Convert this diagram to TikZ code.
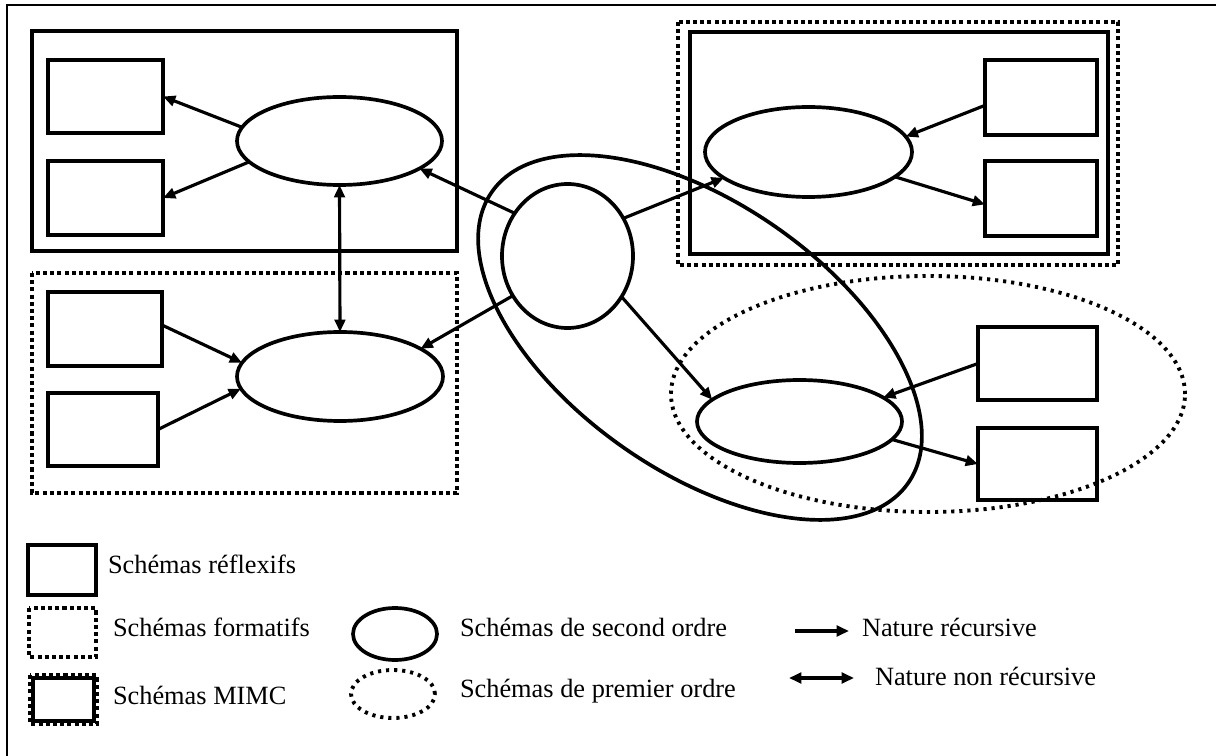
\documentclass[tikz,border=0pt]{standalone}
\usepackage{fontspec}
\setmainfont{Liberation Serif}
\usetikzlibrary{shapes.geometric,arrows.meta}
\begin{document}
\begin{tikzpicture}[x=0.02cm,y=-0.02cm,
  every node/.style={inner sep=0pt,outer sep=0pt},
  box/.style 2 args={draw,rectangle,line width=2.3pt,
    minimum width=#1*0.02cm,minimum height=#2*0.02cm},
  oval/.style 2 args={draw,ellipse,line width=2.1pt,
    minimum width=#1*0.02cm,minimum height=#2*0.02cm},
  solidgrp/.style={draw,line width=2.1pt},
  dotgrp/.style={draw,line width=2.1pt,dash pattern=on 2.3pt off 1.8pt},
  dotoval/.style={line width=2.2pt,dash pattern=on 1.8pt off 2.8pt},
  tip/.tip={Triangle[length=7pt,width=6pt]},
  arr/.style={line width=1.8pt,-tip},
  darr/.style={line width=1.8pt,tip-tip},
  lbl/.style={anchor=base west,font=\fontsize{15}{18}\selectfont}
]
\useasboundingbox (0,0) rectangle (1216,756);
\fill[white] (0,0) rectangle (1216,756);

% page frame (open at right and bottom)
\draw[line width=1.5pt] (1216,5) -- (7,5) -- (7,756);

% ---- group containers ----
\draw[solidgrp] (32,31) rectangle (457,251);          % reflexive group
\draw[dotgrp] (32,273) rectangle (457,493);           % formative group
\draw[dotgrp] (678,22) rectangle (1118,265);          % MIMC group: dotted outline
\draw[solidgrp] (690,32) rectangle (1108,254);        % MIMC group: solid outline
\node[draw,ellipse,dotoval,minimum width=514*0.02cm,minimum height=236*0.02cm] (first) at (928,394) {};

% ---- first-order boxes ----
\node[box={115}{73}] (tl1) at (105.5,96.5) {};
\node[box={115}{74}] (tl2) at (105.5,198) {};
\node[box={114}{74}] (ml1) at (105,329) {};
\node[box={110}{73}] (ml2) at (103,429.5) {};
\node[box={112}{75}] (tr1) at (1041,97.5) {};
\node[box={112}{75}] (tr2) at (1041,198.5) {};
\node[box={119}{73}] (br1) at (1037.5,363.5) {};
\node[box={119}{72}] (br2) at (1037.5,464) {};

% ---- second-order ellipses ----
\node[oval={205}{88}] (tle) at (339.5,141) {};
\node[oval={206}{89}] (mle) at (340,376.5) {};
\node[oval={207}{90}] (tre) at (808.5,152) {};
\node[oval={205}{83}] (bre) at (799.5,421.5) {};
\node[oval={131}{144}] (c) at (567.5,256) {};

% tilted second-order ellipse around the centre
\node[oval={508}{268},rotate=-35] (big) at (700,337.5) {};

% ---- connectors ----
\draw[arr] (tle.172) -- (tl1.east);
\draw[arr] (tle.-167) -- (tl2.east);
\draw[darr] (tle.south) -- (mle.north);
\draw[arr] (ml1.4) -- (mle.172.5);
\draw[arr] (ml2.east) -- (mle.187);
\draw[arr] (c.141) -- (tle.-19);
\draw[arr] (c.-144) -- (mle.19);
\draw[arr] (c.34) -- (tre.-163);
\draw[arr] (c.-37) -- (bre.166);
\draw[arr] (tr1.188) -- (tre.9);
\draw[arr] (tre.-16) -- (tr2.186);
\draw[arr] (br1.west) -- (bre.16);
\draw[arr] (bre.-11) -- (br2.west);

% ---- legend ----
\draw[line width=2.3pt] (28,545) rectangle (96,595);
\node[lbl] (t1) at (108,573) {Schémas réflexifs};
\draw[dotgrp] (29,608) rectangle (96,657);
\node[lbl] (t2) at (113,636) {Schémas formatifs};
\draw[dotgrp] (30,675) rectangle (97,724);
\draw[line width=2.3pt] (33,678) rectangle (94,721);
\node[lbl] (t3) at (113,704) {Schémas MIMC};

\node[oval={84}{52}] (lo1) at (395,634) {};
\node[lbl] (t4) at (460,636) {Schémas de second ordre};
\node[draw,ellipse,dotoval,minimum width=84*0.02cm,minimum height=48*0.02cm] (lo2) at (393,694) {};
\node[lbl] (t5) at (460,697) {Schémas de premier ordre};

\coordinate (a1) at (795,631);
\coordinate (a2) at (849,631);
\draw[arr] (a1) -- (a2);
\node[lbl] (t6) at (862,636) {Nature récursive};
\coordinate (b1) at (789,678);
\coordinate (b2) at (854,678);
\draw[darr] (b1) -- (b2);
\node[lbl] (t7) at (875,685) {Nature non récursive};
\end{tikzpicture}
\end{document}
